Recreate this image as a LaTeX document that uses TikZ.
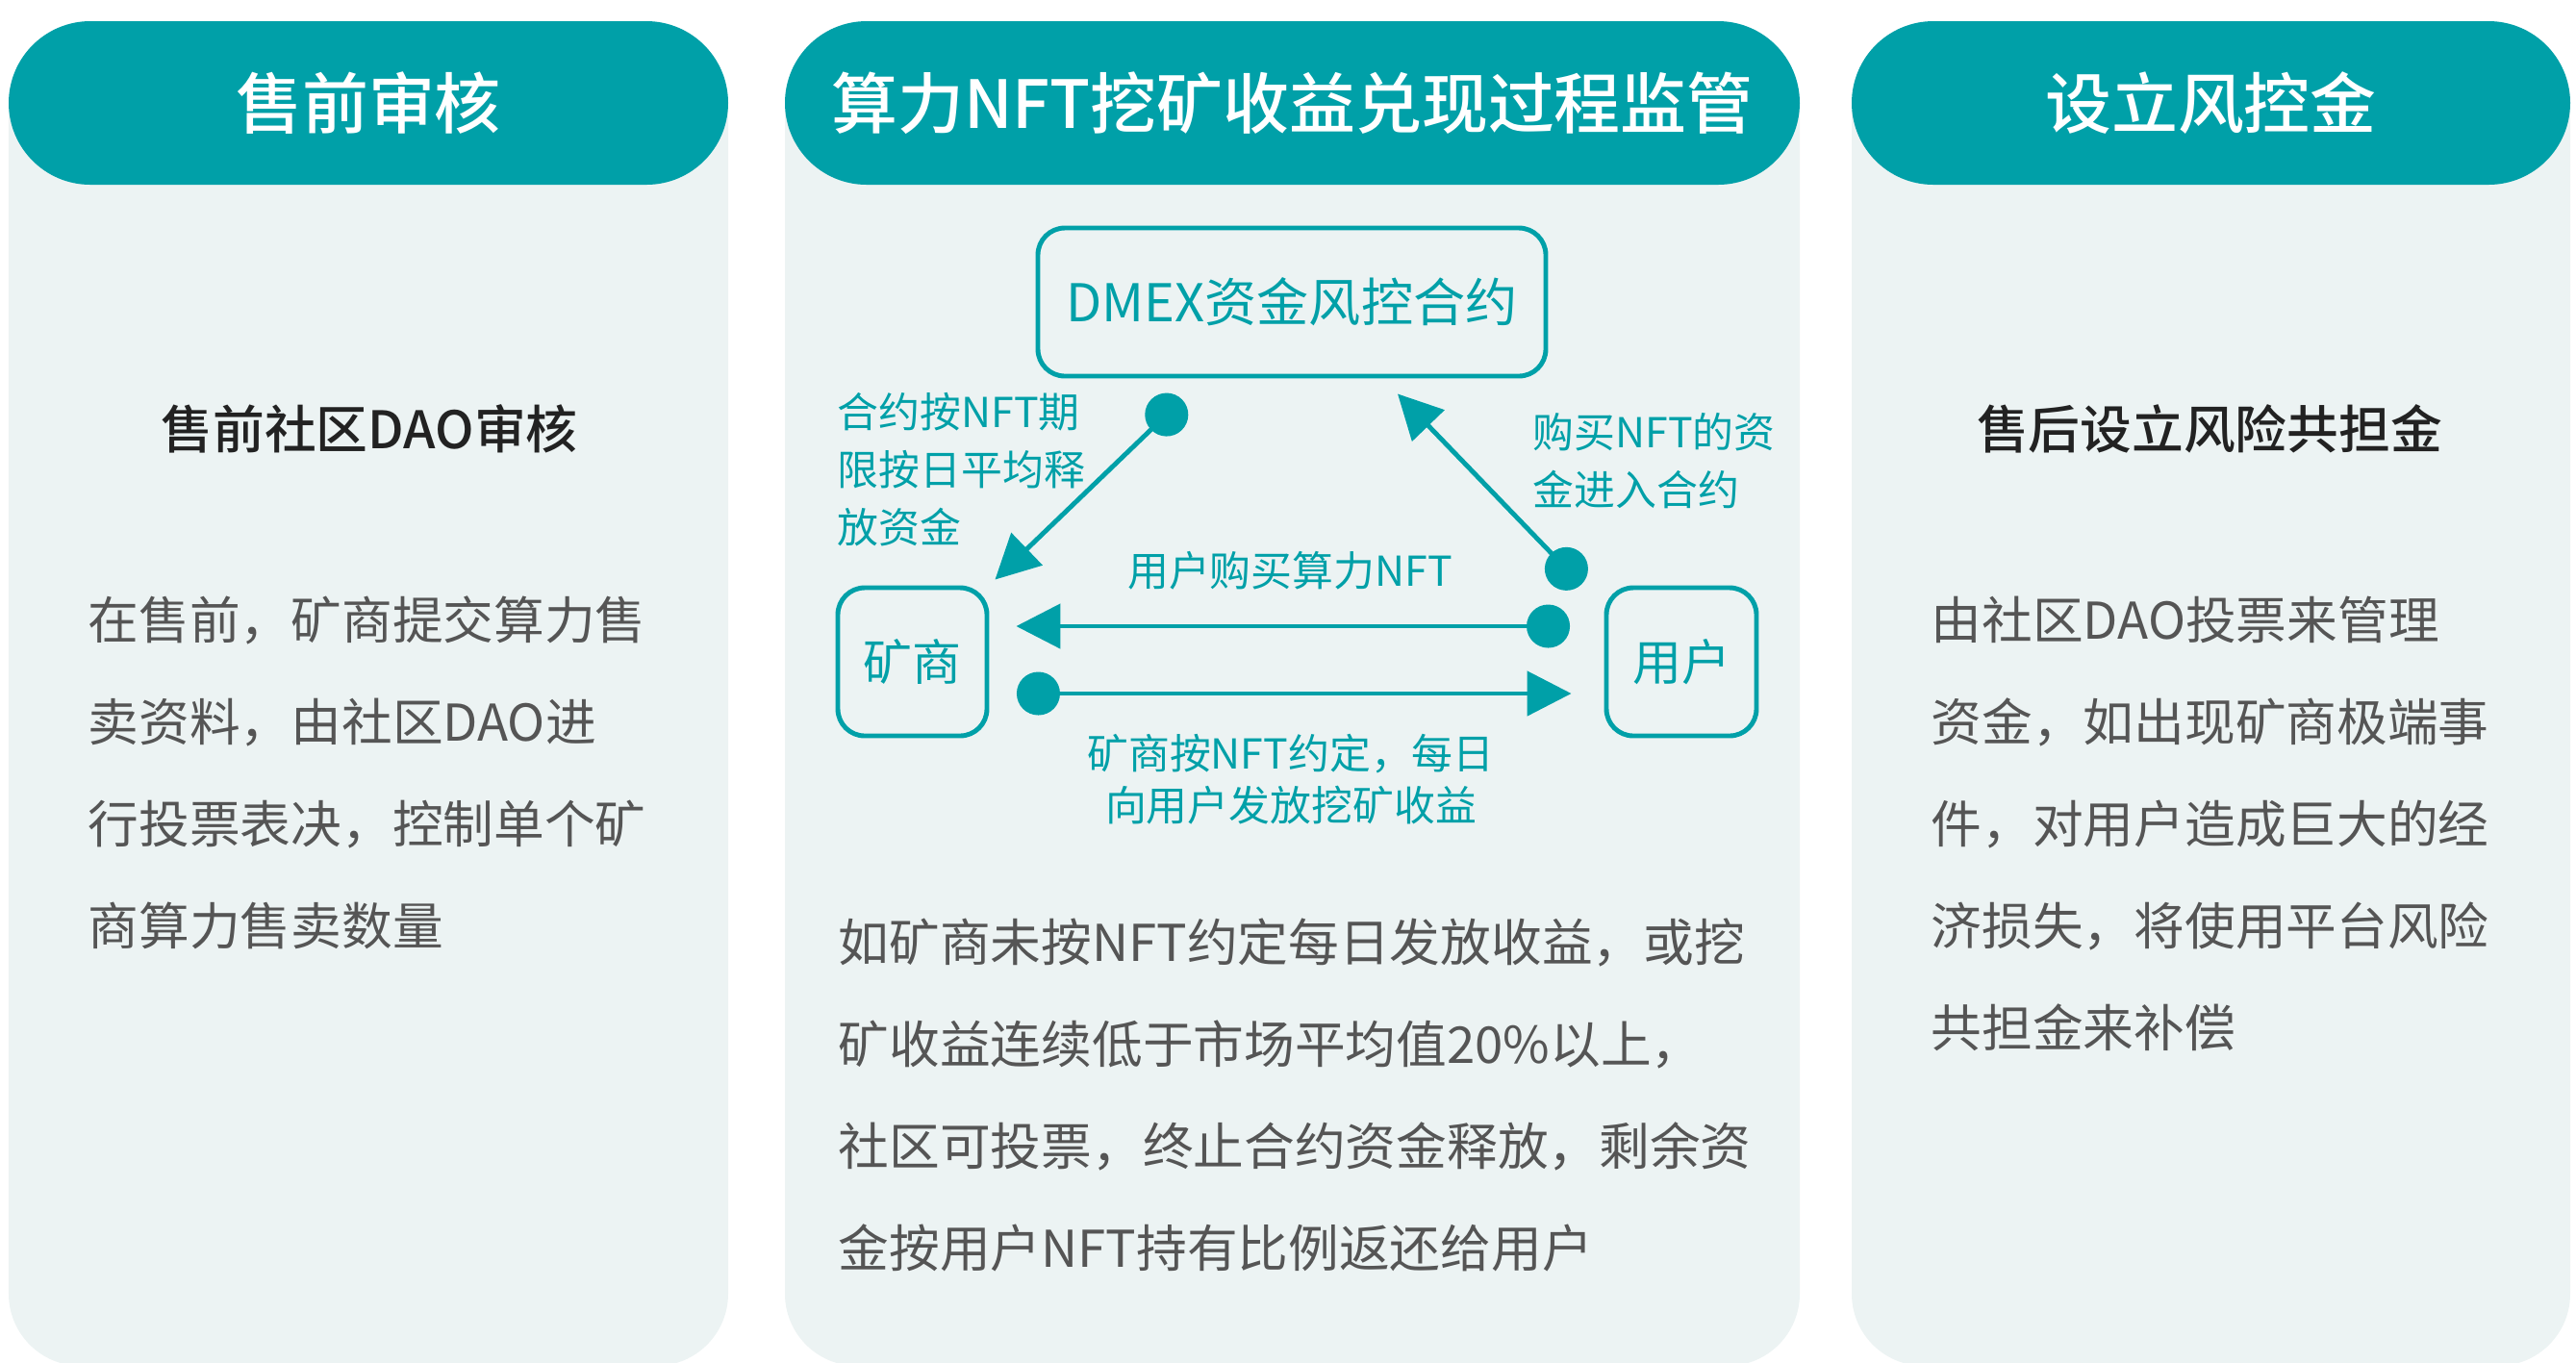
\documentclass[tikz,border=0pt]{standalone}
\usepackage{fontspec}
\setmainfont{Noto Sans CJK SC}
\newfontfamily\medfont{Noto Sans CJK SC Medium}
\usepackage{xcolor}
\usetikzlibrary{arrows.meta}
\usetikzlibrary{positioning}

\definecolor{tealA}{HTML}{00A0A8}
\definecolor{paneBg}{HTML}{ECF3F3}
\definecolor{txtGray}{HTML}{555555}
\definecolor{txtDark}{HTML}{222222}

\begin{document}
\begin{tikzpicture}
[
pane/.style={
	fill=paneBg,
	rounded corners=0.75cm},
hdr/.style={
	fill=tealA,
	rounded corners=0.85cm,
	minimum height=1.70cm,
	text=white,
	font=\medfont\fontsize{19.6}{24}\selectfont},
subTitle/.style={
	text=txtDark,
	font=\medfont\fontsize{15.3}{20}\selectfont},
para/.style={
	anchor=north west,
	inner sep=0pt,
	align=left,
	text=txtGray,
	font=\fontsize{15}{30.2}\selectfont},
box/.style={
	draw=tealA,
	line width=1.4pt,
	rounded corners=0.28cm,
	minimum height=1.54cm,
	text=tealA},
lbl/.style={
	inner sep=0pt,
	align=left,
	text=tealA,
	font=\fontsize{12.2}{17}\selectfont},
flowArr/.style={
	{Circle[length=0.45cm]}-{Triangle[length=0.46cm,width=0.46cm]},
	draw=tealA,
	line width=1.4pt}
]
\useasboundingbox (0,0) rectangle (26.78,-14.16);

%panels
\fill [pane] (0.09,-0.47) rectangle (7.57,-14.20);
\fill [pane] (8.16,-0.47) rectangle (18.71,-14.20);
\fill [pane] (19.25,-0.47) rectangle (26.72,-14.20);

%headers
\node [hdr, minimum width=7.48cm] (h1) at (3.83,-1.07) {售前审核};
\node [hdr, minimum width=10.55cm] (h2) at (13.435,-1.07) {算力NFT挖矿收益兑现过程监管};
\node [hdr, minimum width=7.47cm] (h3) at (22.985,-1.07) {设立风控金};

%left column
\node [subTitle] (t1) at (3.84,-4.46) {售前社区DAO审核};
\node [para] (p1) at (0.91,-6.19) {在售前，矿商提交算力售\\卖资料，由社区DAO进\\行投票表决，控制单个矿\\商算力售卖数量};

%right column
\node [subTitle] (t3) at (22.97,-4.46) {售后设立风险共担金};
\node [para] (p3) at (20.07,-6.19) {由社区DAO投票来管理\\资金，如出现矿商极端事\\件，对用户造成巨大的经\\济损失，将使用平台风险\\共担金来补偿};

%middle column
\node [box, minimum width=5.28cm, font=\fontsize{15.4}{20}\selectfont] (dmex) at (13.43,-3.14) {DMEX资金风控合约};
\node [box, minimum width=1.55cm, font=\fontsize{14.5}{18}\selectfont] (miner) at (9.485,-6.88) {矿商};
\node [box, minimum width=1.56cm, font=\fontsize{14.5}{18}\selectfont] (user) at (17.48,-6.88) {用户};

\node [lbl, anchor=north west] (lRel) at (8.70,-4.08) {合约按NFT期\\限按日平均释\\放资金};
\node [lbl, anchor=north west] (lBuy) at (15.93,-4.29) {购买NFT的资\\金进入合约};
\node [lbl] (lNft) at (13.41,-5.93) {用户购买算力NFT};
\node [lbl, align=center, font=\fontsize{12.2}{15.4}\selectfont] (lPay) at (13.42,-8.10) {矿商按NFT约定，每日\\向用户发放挖矿收益};

\node [para] (p2) at (8.71,-9.54) {如矿商未按NFT约定每日发放收益，或挖\\矿收益连续低于市场平均值20\%以上，\\社区可投票，终止合约资金释放，剩余资\\金按用户NFT持有比例返还给用户};

%shifts of the two horizontal arrows
\def\up{0.37cm}
\def\dn{-0.33cm}

%ends of the two diagonal arrows
\coordinate (relOut) at ([xshift=-1.14cm,yshift=-0.22cm]dmex.south);
\coordinate (relIn) at ([xshift=0.06cm,yshift=0.06cm]miner.north east);
\coordinate (buyOut) at ([xshift=-0.235cm,yshift=0.01cm]user.north west);
\coordinate (buyIn) at ([xshift=1.10cm,yshift=-0.16cm]dmex.south);

\draw [flowArr] (relOut) -- (relIn);
\draw [flowArr] (buyOut) -- (buyIn);
\draw [flowArr, shorten <=0.355cm, shorten >=0.28cm] ([yshift=\up]user.west) -- ([yshift=\up]miner.east);
\draw [flowArr, shorten <=0.285cm, shorten >=0.34cm] ([yshift=\dn]miner.east) -- ([yshift=\dn]user.west);

\end{tikzpicture}
\end{document}
